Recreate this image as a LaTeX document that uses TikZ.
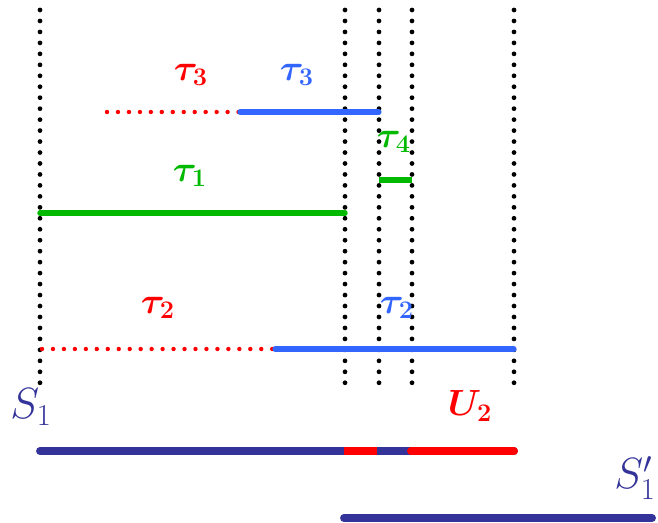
\documentclass[tikz,border=0pt]{standalone}
\usepackage{amsmath}
\usepackage{xcolor}
\usetikzlibrary{positioning}

\definecolor{myred}{RGB}{255,0,0}
\definecolor{myblue}{RGB}{51,102,255}
\definecolor{mygreen}{RGB}{0,185,0}
\definecolor{mynavy}{RGB}{51,51,153}

\begin{document}
\begin{tikzpicture}[
        x=0.02cm, y=-0.02cm,
        guide/.style={line width=2.7pt, line cap=round, dash pattern=on 0pt off 6.24pt},
        reddots/.style={myred, line width=2.5pt, line cap=round, dash pattern=on 0pt off 6.24pt},
        seg/.style={line width=2.9pt, line cap=round},
        bar/.style={mynavy, line width=4.5pt, line cap=round},
        lab/.style={inner sep=0pt, font=\fontsize{22.5}{26}\selectfont\boldmath},
        slab/.style={inner sep=0pt, font=\fontsize{24}{28}\selectfont}
    ]
    \useasboundingbox (0,0) rectangle (658,523);

    % Vertical guides
    \foreach \n/\x in {a/40, b/345, c/379, d/412, e/514} {
        \coordinate (\n top) at (\x,10);
        \coordinate (\n bot) at (\x,383);
        \draw[guide] (\n top) -- (\n bot);
    }

    % Interval tau_3
    \coordinate (t3a) at (107,112);
    \coordinate (t3b) at (240,112);
    \coordinate (t3c) at (379,112);
    \draw[reddots] (t3a) -- (t3b);
    \draw[seg, myblue] (t3b) -- (t3c);
    \node[lab, myred] (t3red) at (191,75) {$\tau_3$};
    \node[lab, myblue] (t3blue) at (297,75) {$\tau_3$};

    % Interval tau_4
    \coordinate (t4a) at (379,180);
    \coordinate (t4b) at (412,180);
    \draw[seg, mygreen, line width=3.1pt, line cap=butt] (t4a) -- (t4b);
    \node[lab, mygreen] (t4) at (394,142) {$\tau_4$};

    % Interval tau_1
    \coordinate (t1a) at (40,213);
    \coordinate (t1b) at (345,213);
    \draw[seg, mygreen, line width=3.1pt] (t1a) -- (t1b);
    \node[lab, mygreen] (t1) at (190,176) {$\tau_1$};

    % Interval tau_2
    \coordinate (t2a) at (42,349);
    \coordinate (t2b) at (275,349);
    \coordinate (t2c) at (514,349);
    \draw[reddots] (t2a) -- (t2b);
    \draw[seg, myblue] (t2b) -- (t2c);
    \node[lab, myred] (t2red) at (158,308) {$\tau_2$};
    \node[lab, myblue] (t2blue) at (397,308) {$\tau_2$};

    % Schedule S_1 and U_2
    \coordinate (s1a) at (40,451);
    \coordinate (s1b) at (344,451);
    \coordinate (s1c) at (377,451);
    \coordinate (s1d) at (411,451);
    \coordinate (s1e) at (514,451);
    \draw[bar] (s1a) -- (s1e);
    \draw[bar, myred, line cap=butt] (s1b) -- (s1c);
    \draw[bar, myred] (s1d) -- (s1e);
    \node[slab, mynavy] (s1) at (31,407) {$S_1$};
    \node[lab, myred] (u2) at (470,406) {$U_2$};

    % Schedule S_1'
    \coordinate (s2a) at (344,518);
    \coordinate (s2b) at (652,518);
    \draw[bar] (s2a) -- (s2b);
    \node[slab, mynavy] (s1p) at (635,478) {$S_1'$};

\end{tikzpicture}
\end{document}
